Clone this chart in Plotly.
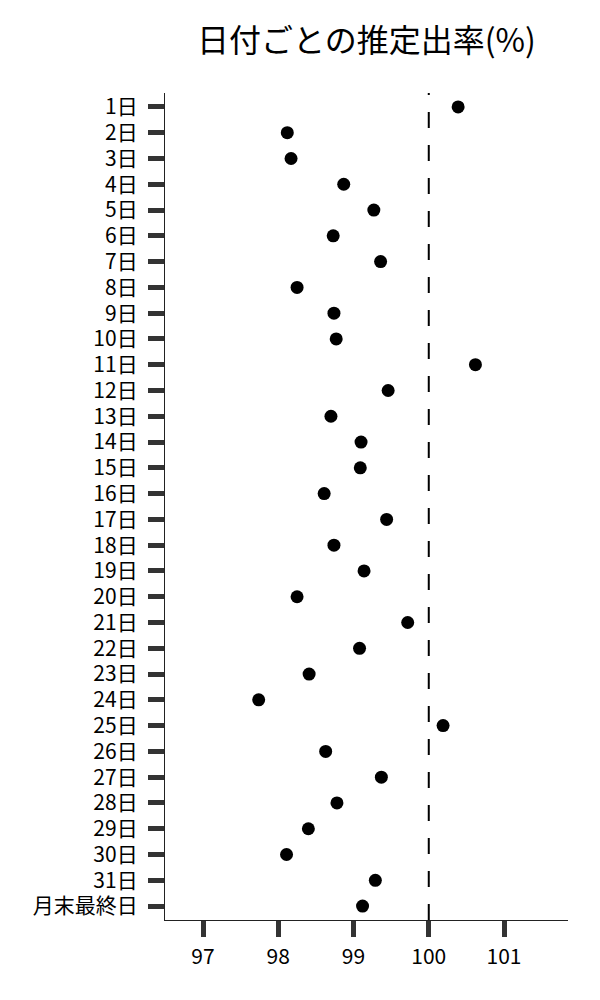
import plotly.graph_objects as go

# day labels (top to bottom) and estimated rate (%)
days = [f"{d}日" for d in range(1, 32)] + ["月末最終日"]
rates = [100.39, 98.12, 98.17, 98.87, 99.27, 98.73, 99.36, 98.25, 98.74, 98.77,
         100.62, 99.46, 98.70, 99.10, 99.09, 98.61, 99.44, 98.74, 99.14, 98.25,
         99.72, 99.08, 98.41, 97.74, 100.19, 98.63, 99.37, 98.78, 98.40, 98.11,
         99.29, 99.12]
x_ticks = [97, 98, 99, 100, 101]
ref_value = 100

FONT = "Noto Sans CJK JP"

fig = go.Figure()

fig.add_trace(go.Scatter(
    x=rates, y=days,
    mode="markers",
    marker=dict(color="black", size=13),
    showlegend=False,
))

# reference line at 100%
fig.add_shape(
    type="line", xref="x", yref="paper",
    x0=ref_value, x1=ref_value, y0=0, y1=1,
    line=dict(color="black", width=2, dash="16px,17px"),
)

# page body adds 8px, margins account for it
fig.update_layout(
    width=600, height=1000,
    margin=dict(l=157, r=40, t=85, b=88),
    paper_bgcolor="white", plot_bgcolor="white",
    font=dict(family=FONT, color="black"),
    title=dict(text="日付ごとの推定出率(%)", x=0.5, xref="paper",
               y=0.967, yanchor="middle",
               font=dict(family=FONT, size=32, color="black")),
)

fig.update_xaxes(
    range=[96.495, 101.85],
    tickvals=x_ticks,
    ticks="outside", ticklen=16, tickwidth=5, tickcolor="#333333",
    ticklabelstandoff=2,
    showline=True, linecolor="#222222", linewidth=1.3,
    showgrid=False, zeroline=False,
    tickfont=dict(family=FONT, size=21, color="black"),
)

fig.update_yaxes(
    type="category", categoryorder="array", categoryarray=days,
    range=[len(days) - 1 + 0.54, -0.54],
    tickmode="array", tickvals=days, ticktext=days,
    ticks="outside", ticklen=16, tickwidth=5, tickcolor="#333333",
    ticklabelstandoff=6,
    showline=True, linecolor="#222222", linewidth=1.3,
    showgrid=False, zeroline=False,
    tickfont=dict(family=FONT, size=21, color="black"),
)

fig.write_html("out.html")
